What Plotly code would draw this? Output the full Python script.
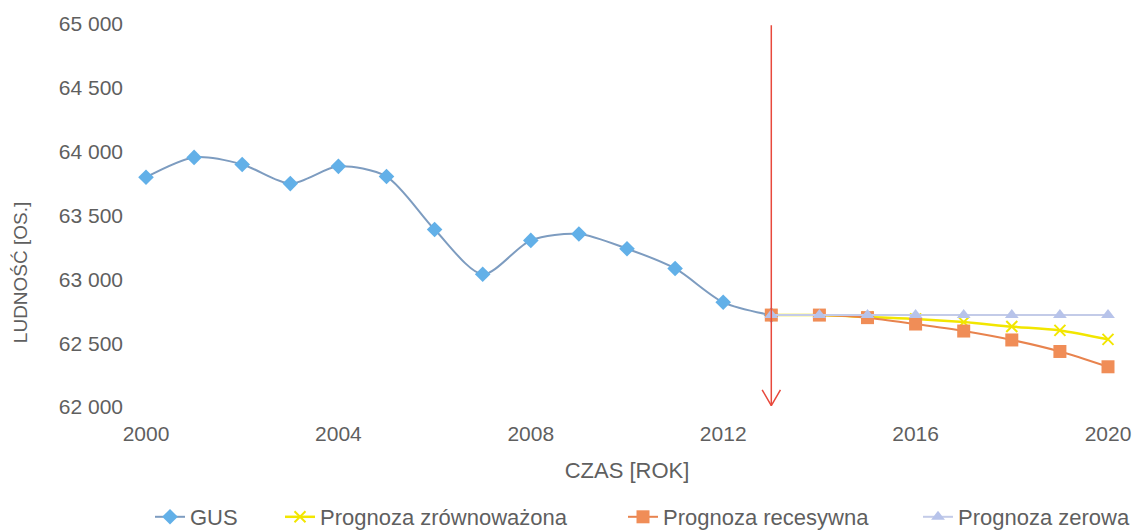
import plotly.graph_objects as go

years_gus = [2000, 2001, 2002, 2003, 2004, 2005, 2006, 2007, 2008, 2009, 2010, 2011, 2012, 2013]
gus = [63800, 63955, 63900, 63750, 63885, 63805, 63390, 63040, 63305, 63355, 63240, 63085, 62820, 62720]

years_fc = [2013, 2014, 2015, 2016, 2017, 2018, 2019, 2020]
zrownowazona = [62720, 62720, 62705, 62690, 62665, 62630, 62600, 62530]
recesywna = [62720, 62720, 62700, 62650, 62595, 62525, 62435, 62315]
zerowa = [62720, 62720, 62720, 62720, 62720, 62720, 62720, 62720]

arrow_year = 2013
arrow_top = 64990
arrow_bottom = 62010

x_ticks = [2000, 2004, 2008, 2012, 2016, 2020]
y_ticks = [62000, 62500, 63000, 63500, 64000, 64500, 65000]
y_tick_labels = ["62 000", "62 500", "63 000", "63 500", "64 000", "64 500", "65 000"]

font_color = "#5f5f5f"
font_family = "Liberation Sans, Arial, sans-serif"
W, H = 1141, 531
PAGE = 8  # default body margin of the html page

fig = go.Figure()

fig.add_trace(go.Scatter(
    x=years_gus, y=gus, name="GUS", mode="lines+markers", legend="legend",
    line=dict(color="#7d9cc0", width=2, shape="spline", smoothing=0.8),
    marker=dict(symbol="diamond", size=12, color="#62b0e8"),
    cliponaxis=False))
fig.add_trace(go.Scatter(
    x=years_fc, y=zrownowazona, name="Prognoza zrównoważona", mode="lines+markers",
    legend="legend2",
    line=dict(color="#f2e600", width=2.5, shape="spline", smoothing=0.8),
    marker=dict(symbol="x-thin", size=11, line=dict(color="#f2e600", width=2)),
    cliponaxis=False))
fig.add_trace(go.Scatter(
    x=years_fc, y=recesywna, name="Prognoza recesywna", mode="lines+markers",
    legend="legend3",
    line=dict(color="#e8834e", width=2, shape="spline", smoothing=0.8),
    marker=dict(symbol="square", size=13, color="#f08d57"),
    cliponaxis=False))
fig.add_trace(go.Scatter(
    x=years_fc, y=zerowa, name="Prognoza zerowa", mode="lines+markers",
    legend="legend4",
    line=dict(color="#c3cbe8", width=2, shape="spline", smoothing=0.8),
    marker=dict(symbol="triangle-up", size=12, color="#b7c3ea"),
    cliponaxis=False))

# red vertical arrow marking the start of forecasts
fig.add_trace(go.Scatter(
    x=[arrow_year, arrow_year], y=[arrow_top, arrow_bottom], mode="lines",
    line=dict(color="#e8493c", width=1.5), showlegend=False, hoverinfo="skip",
    cliponaxis=False))
fig.add_trace(go.Scatter(
    x=[arrow_year - 0.19, arrow_year, arrow_year + 0.19],
    y=[arrow_bottom + 125, arrow_bottom, arrow_bottom + 125], mode="lines",
    line=dict(color="#e8493c", width=1.5), showlegend=False, hoverinfo="skip",
    cliponaxis=False))

legend_font = dict(size=22, color=font_color, family=font_family)
def legend_at(text_px):
    return dict(orientation="h", xref="container", yref="container",
                x=(text_px - 40 - PAGE) / W, xanchor="left",
                y=1 - (517 - PAGE) / H, yanchor="middle",
                font=legend_font, bgcolor="rgba(0,0,0,0)")

fig.update_layout(
    width=W, height=H,
    margin=dict(l=146 - PAGE, r=W - (1108 - PAGE), t=24 - PAGE, b=H - (407 - PAGE),
                autoexpand=False),
    paper_bgcolor="white", plot_bgcolor="white",
    font=dict(family=font_family, color=font_color, size=22),
    showlegend=True,
    legend=legend_at(190),
    legend2=legend_at(320),
    legend3=legend_at(663),
    legend4=legend_at(958),
    xaxis=dict(range=[2000, 2020], tickvals=x_ticks, showgrid=False, zeroline=False,
               showline=False, ticks="", ticklabelstandoff=12, automargin=False,
               tickfont=dict(size=21, color=font_color),
               title=dict(text="CZAS [ROK]", font=dict(size=22, color=font_color), standoff=18)),
    yaxis=dict(range=[62000, 65000], tickvals=y_ticks, ticktext=y_tick_labels,
               showgrid=False, zeroline=False, showline=False, ticks="",
               ticklabelstandoff=22, automargin=False,
               tickfont=dict(size=21, color=font_color)),
    annotations=[dict(text="LUDNOŚĆ [OS.]", xref="paper", yref="paper",
                      x=-0.131, y=0.352, textangle=-90, showarrow=False,
                      font=dict(size=19, color=font_color), xanchor="center", yanchor="middle")],
)

fig.write_html("out.html")
